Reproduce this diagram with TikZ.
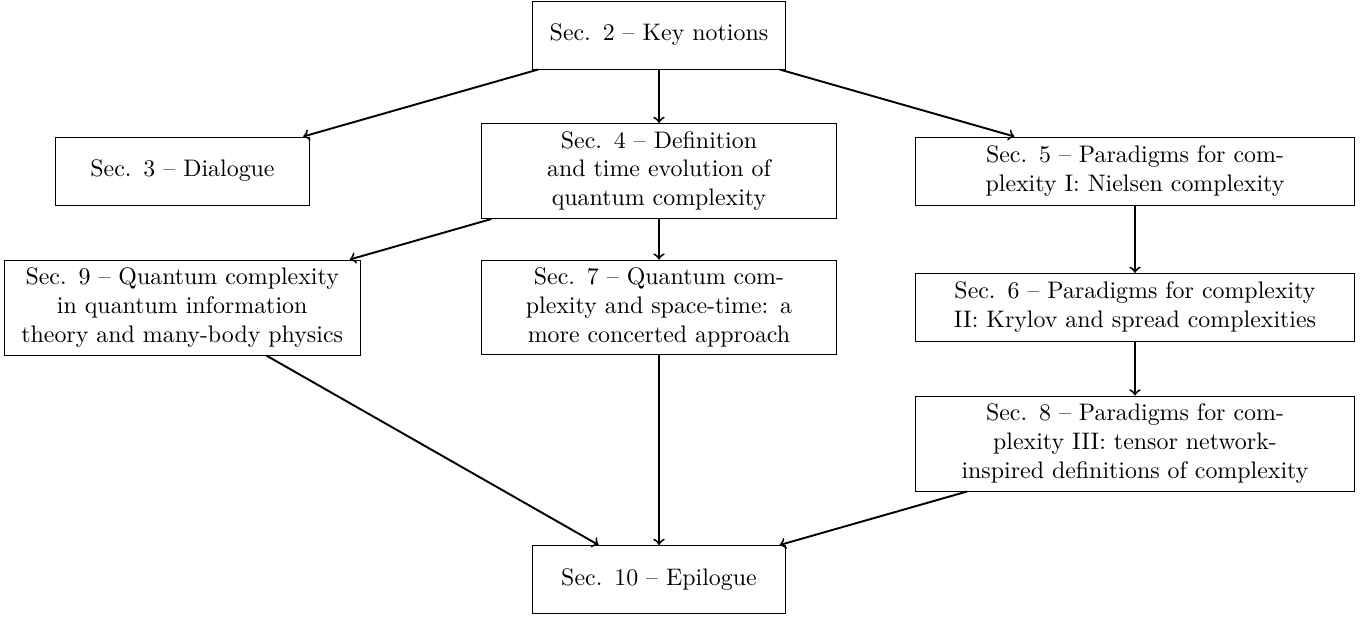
\documentclass[tikz,border=0pt]{standalone}
\usetikzlibrary{arrows}
\begin{document}
\begin{tikzpicture}[x=0.41842pt,y=-0.41842pt]
\tikzset{
  box/.style={draw, line width=0.4pt, align=center, minimum height=1cm, inner sep=0.3333em},
  boxs/.style={box, text width=3.5cm},
  boxm/.style={box, text width=5cm},
  boxl/.style={box, text width=6.23cm},
  conn/.style={->, line width=0.8pt}
}
\useasboundingbox (0,0) rectangle (1368,616);
\node[boxs] (s2) at (659,35) {Sec. 2 -- Key notions};
\node[boxs] (s3) at (182.5,171) {Sec. 3 -- Dialogue};
\node[boxm] (s4) at (659,171) {Sec. 4 -- Definition\\and time evolution of\\quantum complexity};
\node[boxl] (s5) at (1135,171) {Sec. 5 -- Paradigms for com-\\plexity I: Nielsen complexity};
\node[boxm] (s9) at (182.2,307.5) {Sec. 9 -- Quantum complexity\\in quantum information\\theory and many-body physics};
\node[boxm] (s7) at (659,307.5) {Sec. 7 -- Quantum com-\\plexity and space-time: a\\more concerted approach};
\node[boxl] (s6) at (1135,307.3) {Sec. 6 -- Paradigms for complexity\\II: Krylov and spread complexities};
\node[boxl] (s8) at (1135,443.5) {Sec. 8 -- Paradigms for com-\\plexity III: tensor network-\\inspired definitions of complexity};
\node[boxs] (s10) at (659,579.5) {Sec. 10 -- Epilogue};
\draw[conn] (s2) -- (s3);
\draw[conn] (s2) -- (s4);
\draw[conn] (s2) -- (s5);
\draw[conn] (s4) -- (s9);
\draw[conn] (s4) -- (s7);
\draw[conn] (s5) -- (s6);
\draw[conn] (s6) -- (s8);
\draw[conn] (s9) -- (s10);
\draw[conn] (s7) -- (s10);
\draw[conn] (s8) -- (s10);
\end{tikzpicture}
\end{document}
